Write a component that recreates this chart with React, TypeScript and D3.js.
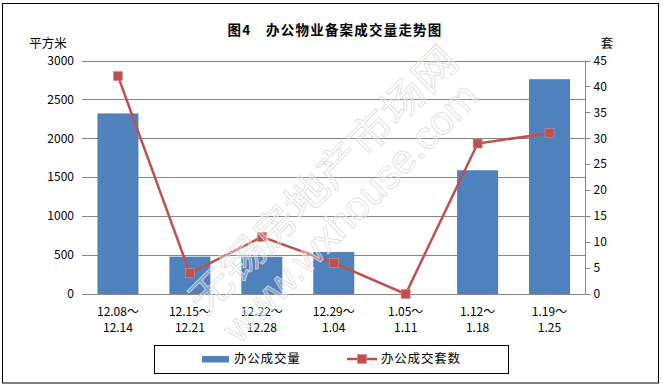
import * as d3 from 'd3';

// weekly office filings (图4)
const weeks = ['12.08～|12.14', '12.15～|12.21', '12.22～|12.28', '12.29～|1.04', '1.05～|1.11', '1.12～|1.18', '1.19～|1.25'];
const area = [2320, 480, 478, 540, 0, 1590, 2760];   // 平方米
const units = [42, 4, 11, 6, 0, 29, 31];             // 套
const leftTicks = [0, 500, 1000, 1500, 2000, 2500, 3000];
const rightTicks = [0, 5, 10, 15, 20, 25, 30, 35, 40, 45];

const W = 663;
const H = 387;
const margin = { top: 60.5, right: 77.5, bottom: 93, left: 82 };
const font = '"Noto Sans CJK SC", "Noto Sans", sans-serif';
const blue = '#4F81BD';
const red = '#C0504D';

export default function App() {
  const x = d3.scaleBand<string>()
    .domain(weeks)
    .range([margin.left, W - margin.right])
    .paddingInner(0.43)
    .paddingOuter(0.215);
  const yL = d3.scaleLinear().domain([0, 3000]).range([H - margin.bottom, margin.top]);
  const yR = d3.scaleLinear().domain([0, 45]).range([H - margin.bottom, margin.top]);
  const cx = (d: string) => x(d)! + x.bandwidth() / 2;

  const line = d3.line<number>()
    .x((_, i) => cx(weeks[i]))
    .y(d => yR(d));

  const x0 = margin.left;
  const x1 = W - margin.right;
  const yBase = H - margin.bottom;

  return (
    <svg width={W} height={H} style={{ position: 'absolute', left: 0, top: 0, fontFamily: font }}>
      <rect x={2.5} y={3.5} width={656} height={379.5} fill="white" stroke="#000" strokeWidth={1} />

      <text x={335} y={35} textAnchor="middle" fontSize={13.5} fontWeight="bold" letterSpacing={1.2}>图4　办公物业备案成交量走势图</text>

      {/* grid + left axis */}
      {leftTicks.map(t => (
        <g key={'l' + t}>
          <line x1={x0} x2={x1} y1={Math.round(yL(t)) + 0.5} y2={Math.round(yL(t)) + 0.5} stroke="#868686" />
          <text x={74} y={yL(t)} dy="0.35em" textAnchor="end" fontSize={12}>{t}</text>
        </g>
      ))}
      <text x={48} y={47.5} textAnchor="middle" fontSize={12.5}>平方米</text>

      {/* right axis */}
      <line x1={x1} x2={x1} y1={margin.top} y2={yBase} stroke="#868686" />
      {rightTicks.map(t => (
        <g key={'r' + t}>
          <line x1={x1} x2={x1 + 5} y1={Math.round(yR(t)) + 0.5} y2={Math.round(yR(t)) + 0.5} stroke="#868686" />
          <text x={x1 + 8} y={yR(t)} dy="0.35em" fontSize={12}>{t}</text>
        </g>
      ))}
      <text x={607} y={47.5} textAnchor="middle" fontSize={12.5}>套</text>

      {/* bars */}
      {weeks.map((w, i) => (
        <rect key={w} x={x(w)} y={yL(area[i])} width={x.bandwidth()} height={yBase - yL(area[i])} fill={blue} />
      ))}

      {/* category labels */}
      {weeks.map(w => {
        const [a, b] = w.split('|');
        return (
          <text key={'t' + w} x={cx(w)} textAnchor="middle" fontSize={12}>
            <tspan x={cx(w)} y={316}>{a}</tspan>
            <tspan x={cx(w)} y={332}>{b}</tspan>
          </text>
        );
      })}

      {/* units line */}
      <path d={line(units) ?? ''} fill="none" stroke={red} strokeWidth={2.5} />
      {units.map((u, i) => (
        <rect key={'m' + i} x={cx(weeks[i]) - 4.5} y={yR(u) - 4.5} width={9} height={9} fill={red} stroke="#d48a88" strokeWidth={0.6} />
      ))}

      {/* watermark */}
      <g fill="white" fillOpacity={0.3} stroke="#dadada" strokeWidth={0.7} pointerEvents="none">
        <text transform="translate(323,180) rotate(-44.7)" textAnchor="middle" dy="0.35em" fontSize={40} textLength={360} lengthAdjust="spacingAndGlyphs">无锡房地产市场网</text>
        <text transform="translate(350,212) rotate(-45.5)" textAnchor="middle" dy="0.35em" fontSize={40} textLength={345} lengthAdjust="spacingAndGlyphs" fontFamily="Liberation Sans, sans-serif">www.wxhouse.com</text>
      </g>

      {/* legend */}
      <rect x={154.5} y={345.5} width={354} height={28} fill="white" stroke="#000" />
      <rect x={202} y={356} width={27} height={6.5} fill={blue} />
      <text x={234} y={359} dy="0.35em" fontSize={12.5} letterSpacing={0.8}>办公成交量</text>
      <line x1={347} x2={377} y1={359} y2={359} stroke={red} strokeWidth={2.5} />
      <rect x={357.5} y={354.5} width={9} height={9} fill={red} stroke="#d48a88" strokeWidth={0.6} />
      <text x={381} y={359} dy="0.35em" fontSize={12.5} letterSpacing={0.8}>办公成交套数</text>
    </svg>
  );
}
